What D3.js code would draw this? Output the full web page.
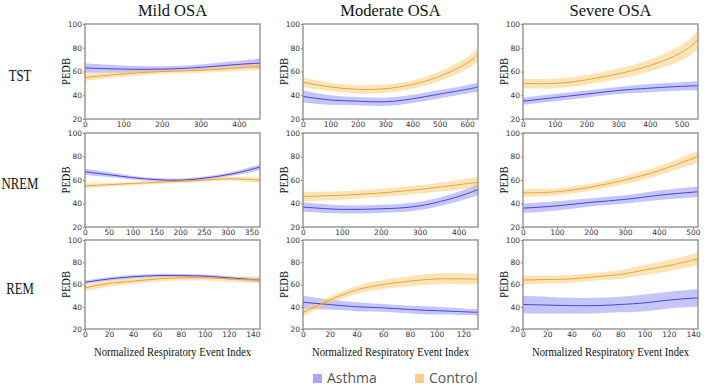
<!DOCTYPE html>
<html>
<head>
<meta charset="utf-8">
<script src="https://cdn.jsdelivr.net/npm/d3@7"></script>
<style>
  body { margin: 0; background: #fff; }
  svg { display: block; }
</style>
</head>
<body>
<div id="chart"></div>
<script>
// ============================================================================
// DATA
// ============================================================================
// columns = OSA severity, rows = sleep stage
const severities = ["Mild OSA", "Moderate OSA", "Severe OSA"];
const stages = ["TST", "NREM", "REM"];
const groups = ["Asthma", "Control"];

// x-axis extent of each panel (row by row)
const xMax = [
    [455, 640, 552],
    [368, 450, 515],
    [146, 131, 144],
];
const xStep = [
    [100, 100, 100],
    [50, 100, 100],
    [20, 20, 20],
];
const yTicks = [20, 40, 60, 80, 100];

// each row: [index, asthma mean, asthma half-band, control mean, control half-band]
const mildTST = [
    [0, 63, 4, 55, 3], [100, 62, 3, 58, 2.5], [200, 62, 2.5, 60, 2], [300, 63.5, 2.5, 61, 2],
    [400, 66, 3, 63, 2.5], [455, 67, 4, 64, 3],
];
const moderateTST = [
    [0, 39, 5, 51, 4], [100, 36, 4, 47, 3.5], [200, 35, 3.5, 45, 3.5], [300, 34.5, 3.5, 45.5, 3.5],
    [400, 37, 3.5, 49, 3.5], [500, 41, 3.5, 56, 4], [600, 45, 3.5, 67, 5], [640, 47, 4, 75, 6],
];
const severeTST = [
    [0, 35, 3, 50, 4], [100, 38, 3, 50, 4], [200, 41, 3, 53, 4], [300, 44, 3, 58, 4.5],
    [400, 46, 3.5, 65, 5], [500, 47.5, 3.5, 76, 6.5], [552, 48, 4, 87, 8],
];
const mildNREM = [
    [0, 67, 2.5, 55, 2], [50, 64.5, 2, 56, 1.5], [100, 62, 1.5, 57, 1.5], [150, 60.3, 1.5, 58, 1.5],
    [200, 59.8, 1.5, 59, 1.5], [250, 61.5, 1.5, 60, 1.5], [300, 64.5, 1.5, 61, 1.5],
    [340, 68, 2, 60.5, 2], [368, 71, 2.5, 60, 2],
];
const moderateNREM = [
    [0, 37, 4, 46, 4], [100, 35, 3.5, 47, 3.5], [200, 35.5, 3.5, 49, 3.5], [300, 38, 3.5, 52, 3.5],
    [400, 46, 4, 56, 4], [450, 52, 5, 58, 4.5],
];
const severeNREM = [
    [0, 36, 4, 49, 3.5], [100, 38, 4, 50, 3], [200, 41, 3.5, 54, 3], [300, 43.5, 3.5, 60, 3.5],
    [400, 47, 4, 68, 4], [515, 50, 4.5, 80, 5],
];
const mildREM = [
    [0, 62, 1.5, 57, 3], [20, 65, 1.5, 61, 3], [40, 67, 1.5, 63, 2.5], [60, 68, 1.5, 65, 2.5],
    [80, 68, 1.5, 66, 2.5], [100, 67.5, 1.5, 66, 2.5], [120, 66, 1.5, 65, 2.5], [146, 64, 2, 64, 3],
];
const moderateREM = [
    [0, 44, 6, 35, 3.5], [20, 42, 4.5, 46, 3], [40, 40, 4, 55, 3.5], [60, 39, 3.5, 60, 4],
    [80, 37.5, 3.5, 63, 4.5], [100, 36.5, 3.5, 65, 5], [120, 35.5, 3, 65, 5], [131, 35, 3, 65, 5],
];
const severeREM = [
    [0, 42, 8, 64, 4], [20, 41.5, 7.5, 64.5, 3.5], [40, 41, 7, 65, 3.5], [60, 41, 7, 67, 3.5],
    [80, 42, 7, 69, 4], [100, 43.5, 7.5, 73, 4.5], [120, 46, 7.5, 77, 5], [144, 48, 8, 83, 6],
];

const panels = [
    [mildTST, moderateTST, severeTST],
    [mildNREM, moderateNREM, severeNREM],
    [mildREM, moderateREM, severeREM],
];

// ============================================================================
// LAYOUT
// ============================================================================
const W = 709, H = 388;
const colLeft = [85, 303, 523];
const panelWidth = 175;
const rowTop = [24, 133, 240];
const rowHeight = [95, 94, 89];

const serif = "'Times New Roman', 'Liberation Serif', serif";
const lineColor = { Asthma: "#4a44dc", Control: "#eba43a" };
const bandColor = { Asthma: "#8d8cf5", Control: "#fcc96f" };
const legendColor = { Asthma: "#a9a7f7", Control: "#fdcf7f" };

const svg = d3.select("#chart").append("svg")
    .attr("width", W)
    .attr("height", H);

// column titles
severities.forEach((s, c) => {
    svg.append("text")
        .attr("x", colLeft[c] + panelWidth / 2)
        .attr("y", 16)
        .attr("text-anchor", "middle")
        .style("font-family", serif)
        .style("font-size", "16.5px")
        .style("fill", "#111")
        .text(s);
});

// row labels (the source text is narrow, so squeeze it a little)
stages.forEach((s, r) => {
    svg.append("text")
        .attr("transform", `translate(20,${rowTop[r] + rowHeight[r] / 2 + 9}) scale(0.8,1)`)
        .attr("text-anchor", "middle")
        .style("font-family", serif)
        .style("font-size", "16px")
        .style("fill", "#111")
        .text(s);
});

// ============================================================================
// PANELS
// ============================================================================
panels.forEach((row, r) => {
    row.forEach((data, c) => {
        const g = svg.append("g")
            .attr("transform", `translate(${colLeft[c]},${rowTop[r]})`);
        const h = rowHeight[r];

        const x = d3.scaleLinear().domain([0, xMax[r][c]]).range([0, panelWidth]);
        const y = d3.scaleLinear().domain([20, 100]).range([h, 0]);

        groups.forEach((grp, gi) => {
            const mi = gi === 0 ? 1 : 3;
            const area = d3.area()
                .x(d => x(d[0]))
                .y0(d => y(d[mi] - d[mi + 1]))
                .y1(d => y(d[mi] + d[mi + 1]))
                .curve(d3.curveNatural);
            g.append("path")
                .datum(data)
                .attr("fill", bandColor[grp])
                .attr("fill-opacity", 0.5)
                .attr("d", area);
        });
        groups.forEach((grp, gi) => {
            const mi = gi === 0 ? 1 : 3;
            const line = d3.line()
                .x(d => x(d[0]))
                .y(d => y(d[mi]))
                .curve(d3.curveNatural);
            g.append("path")
                .datum(data)
                .attr("fill", "none")
                .attr("stroke", lineColor[grp])
                .attr("stroke-width", 1)
                .attr("d", line);
        });

        // frame
        g.append("rect")
            .attr("width", panelWidth)
            .attr("height", h)
            .attr("fill", "none")
            .attr("stroke", "#8a8a8a")
            .attr("stroke-width", 1.3);

        const xTicks = d3.range(0, xMax[r][c] + 0.001, xStep[r][c]);
        const xAxis = g.append("g")
            .attr("transform", `translate(0,${h})`)
            .call(d3.axisBottom(x).tickValues(xTicks).tickSize(2).tickPadding(1));
        const yAxis = g.append("g")
            .call(d3.axisLeft(y).tickValues(yTicks).tickSize(2).tickPadding(1));
        [xAxis, yAxis].forEach(a => {
            a.select(".domain").remove();
            a.selectAll("line").attr("stroke", "#888");
            a.selectAll("text")
                .style("font-family", "DejaVu Sans, sans-serif")
                .style("font-size", "7.5px")
                .style("fill", "#333");
        });

        g.append("text")
            .attr("transform", `translate(-15,${h / 2}) rotate(-90) scale(0.78,1)`)
            .attr("text-anchor", "middle")
            .style("font-family", serif)
            .style("font-size", "13.5px")
            .style("fill", "#111")
            .text("PEDB");

        if (r === 2) {
            g.append("text")
                .attr("transform", `translate(${panelWidth / 2},${h + 27}) scale(0.82,1)`)
                .attr("text-anchor", "middle")
                .style("font-family", serif)
                .style("font-size", "13px")
                .style("fill", "#111")
                .text("Normalized Respiratory Event Index");
        }
    });
});

// ============================================================================
// LEGEND
// ============================================================================
const legendX = [313, 415];
groups.forEach((grp, i) => {
    const lg = svg.append("g").attr("transform", `translate(${legendX[i]},374)`);
    lg.append("rect")
        .attr("width", 9)
        .attr("height", 9)
        .attr("fill", legendColor[grp]);
    lg.append("text")
        .attr("x", 14)
        .attr("y", 9)
        .style("font-family", "Open Sans, sans-serif")
        .style("font-size", "14px")
        .style("fill", "#555")
        .text(grp);
});
</script>
</body>
</html>
